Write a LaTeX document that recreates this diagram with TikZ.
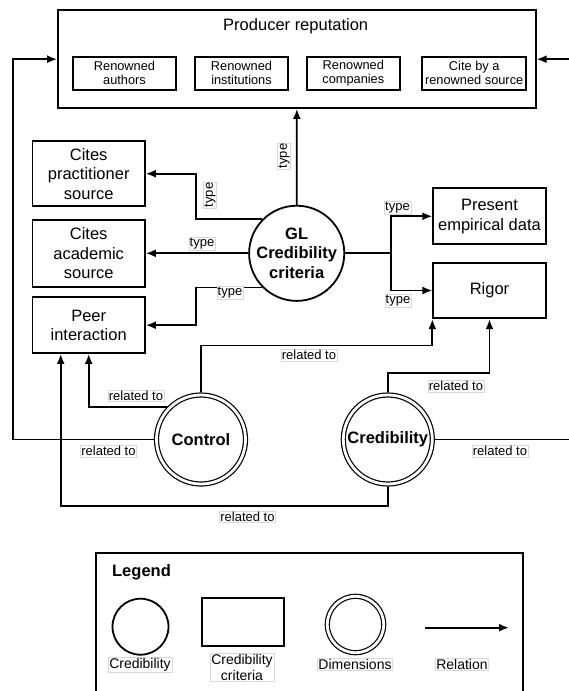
\documentclass[tikz,border=0pt]{standalone}
\usepackage{fontspec}
\setmainfont{Liberation Sans}
\usetikzlibrary{arrows,arrows.meta,positioning,calc}

\begin{document}
\begin{tikzpicture}[>={Latex[length=10pt,width=8pt]},line width=1.8pt,x=1pt,y=-1pt]
\tikzstyle{crit}=[draw,rectangle,align=center,inner sep=0pt,minimum width=112.5pt,font=\fontsize{16.5}{19.5}\selectfont]
\tikzstyle{sub}=[draw,rectangle,align=center,inner sep=0pt,minimum height=33.3pt,font=\fontsize{12.8}{14}\selectfont]
\tikzstyle{cred}=[draw,circle,align=center,inner sep=0pt,minimum size=87pt,font=\bfseries\fontsize{16.5}{19.5}\selectfont]
\tikzstyle{dimen}=[draw,circle,double,double distance=2.8pt,line width=1.2pt,outer sep=2.6pt,inner sep=0pt,minimum size=89pt,font=\bfseries\fontsize{16.5}{19.5}\selectfont]
\tikzstyle{rel}=[fill=white,draw=black!15,line width=0.4pt,inner sep=1pt,font=\fontsize{13}{14}\selectfont]
\tikzstyle{leg}=[rel,align=center,font=\fontsize{14}{16}\selectfont]
\useasboundingbox (0,0) rectangle (568,691);

% producer reputation
\node[draw,inner sep=0pt,minimum width=477.7pt,minimum height=97.7pt] (prod) at (296.85,59.2) {};
\node[font=\fontsize{16.5}{19.5}\selectfont] (prodT) at (295.7,26.7) {Producer reputation};
\node[sub,minimum width=102.4pt] (authors) at (124.5,73.3) {Renowned\\authors};
\node[sub,minimum width=93pt] (inst) at (241.5,73.3) {Renowned\\institutions};
\node[sub,minimum width=93.3pt] (comp) at (353.3,73.3) {Renowned\\companies};
\node[sub,minimum width=103.7pt] (cite) at (474.2,73.3) {Cite by a\\renowned source};

% criteria
\node[crit,minimum height=65.3pt] (prac) at (88.7,173.7) {Cites\\practitioner\\source};
\node[crit,minimum height=66.7pt] (acad) at (88.7,253.3) {Cites\\academic\\source};
\node[crit,minimum height=55.7pt] (peer) at (88.7,325.2) {Peer\\interaction};
\node[crit,minimum height=56pt] (emp) at (489.5,216.3) {Present\\empirical data};
\node[crit,minimum height=55.6pt] (rig) at (489.5,290.5) {Rigor};

\node[cred] (gl) at (296.7,253.3) {GL\\Credibility\\criteria};
\node[dimen] (ctl) at (201,439.5) {Control};
\node[dimen] (cr) at (387.8,439.5) {Credibility};

% type
\draw[->] (gl.north) -- (prod.south);
\draw[->] (gl.135) -- ++(-66.6,0) |- (prac.east);
\draw[->] (gl.west) -- (acad.east);
\draw[->] (gl.225) -- ++(-66.6,0) |- (peer.east);
\draw[->] (gl.east) -- ++(45.7,0) |- (emp.west);
\draw[->] (gl.east) -- ++(45.7,0) |- (rig.west);

% related to
\draw[->] (ctl.north) -- ++(0,-47) -| (rig.south west);
\draw[->] (ctl.137) -| (peer.south);
\draw[->] (ctl.west) -- ++(-140.7,0) |- (prod.west);
\draw[->] (cr.north) -- ++(0,-19.5) -| (rig.south);
\draw[->] (cr.south) -- ++(0,19.5) -| ([xshift=-28pt]peer.south);
\draw[->] (cr.east) -- ++(150,0) |- (prod.east);

\node[rel,rotate=90] (tProd) at (284,156) {type};
\node[rel,rotate=90] (tPrac) at (210,195) {type};
\node[rel] (tAcad) at (202,244) {type};
\node[rel] (tPeer) at (230,293) {type};
\node[rel] (tEmp) at (397.5,207.5) {type};
\node[rel] (tRig) at (398,300.5) {type};
\node[rel] (rCtlRig) at (309,355) {related to};
\node[rel] (rCtlPeer) at (136,395.5) {related to};
\node[rel] (rCtlProd) at (108.5,451) {related to};
\node[rel] (rCrProd) at (500,451) {related to};
\node[rel] (rCrRig) at (456,386) {related to};
\node[rel] (rCrPeer) at (247.5,516.5) {related to};

% legend
\node[draw,inner sep=0pt,minimum width=426.7pt,minimum height=170pt,anchor=north west] (legend) at (95,551.7) {};
\node[font=\bfseries\fontsize{16.5}{19.5}\selectfont] (legT) at (141.5,572.5) {Legend};
\node[draw,circle,inner sep=0pt,minimum size=56pt] (lgC) at (140.5,626.7) {};
\node[draw,inner sep=0pt,minimum width=82.3pt,minimum height=47.7pt] (lgR) at (242.9,622.2) {};
\node[dimen,minimum size=56.4pt] (lgD) at (355.5,624.5) {};
\coordinate (lgA) at (425,627.7);
\coordinate (lgB) at (509,627.7);
\draw[->] (lgA) -- (lgB);
\node[leg] (lgCt) at (140,665) {Credibility};
\node[leg] (lgRt) at (242,667.5) {Credibility\\criteria};
\node[leg] (lgDt) at (355,664.5) {Dimensions};
\node[leg] (lgAt) at (462,664.5) {Relation};
\end{tikzpicture}
\end{document}
